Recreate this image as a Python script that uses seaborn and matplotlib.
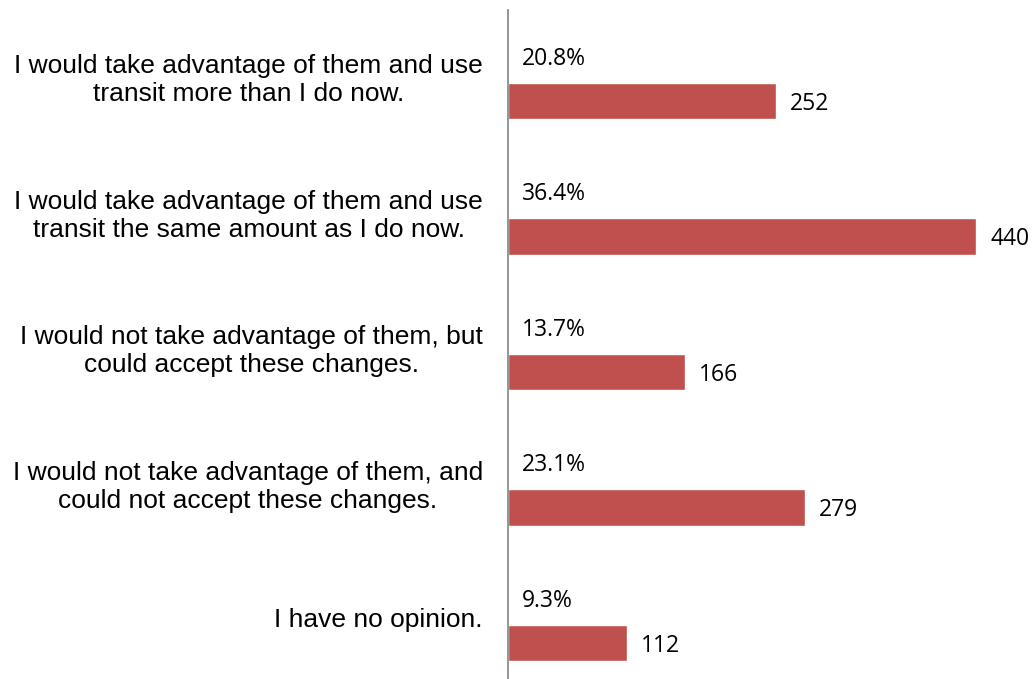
import matplotlib
matplotlib.use("Agg")
import matplotlib.pyplot as plt
import seaborn as sns
import pandas as pd

categories = [
    "I would take advantage of them and use\ntransit more than I do now.",
    "I would take advantage of them and use\ntransit the same amount as I do now.",
    "I would not take advantage of them, but\ncould accept these changes.",
    "I would not take advantage of them, and\ncould not accept these changes.",
    "I have no opinion.",
]
counts = [252, 440, 166, 279, 112]
pct_labels = ["20.8%", "36.4%", "13.7%", "23.1%", "9.3%"]

sns.set_theme(style="white")
plt.rcParams["font.family"] = ["Liberation Sans", "DejaVu Sans"]

df = pd.DataFrame({"category": categories, "count": counts})

fig = plt.figure(figsize=(10.35, 6.79), dpi=100)
ax = fig.add_axes([508 / 1035, 0, 1 - 508 / 1035, 669 / 679])

sns.barplot(data=df, x="count", y="category", orient="h", color="#C0504D",
            saturation=1, width=0.267, ax=ax)

ax.set_xlim(0, 495)
ax.set_ylim(4 + 36 / 135.5, -91 / 135.5)

# category labels sit slightly above the bar, right-aligned, lines centred
ax.set_yticks([i - 0.185 for i in range(len(categories))])
ax.set_yticklabels(categories, fontsize=19, color="black", ha="right",
                   multialignment="center", linespacing=1.2)
ax.tick_params(axis="y", length=0, pad=18)
ax.set_xticks([])
ax.set_xlabel("")
ax.set_ylabel("")

for s in ["top", "right", "bottom"]:
    ax.spines[s].set_visible(False)
ax.spines["left"].set_color("#8c8c8c")
ax.spines["left"].set_linewidth(1.3)

num_font = ["Open Sans", "DejaVu Sans"]
for i, (c, p) in enumerate(zip(counts, pct_labels)):
    ax.text(c + 13, i + 0.02, str(c), va="center", ha="left",
            fontsize=16.5, family=num_font, color="black")
    ax.text(13, i - 0.31, p, va="center", ha="left",
            fontsize=16.5, family=num_font, color="black")

fig.savefig("out.png", dpi=100, facecolor="white")
